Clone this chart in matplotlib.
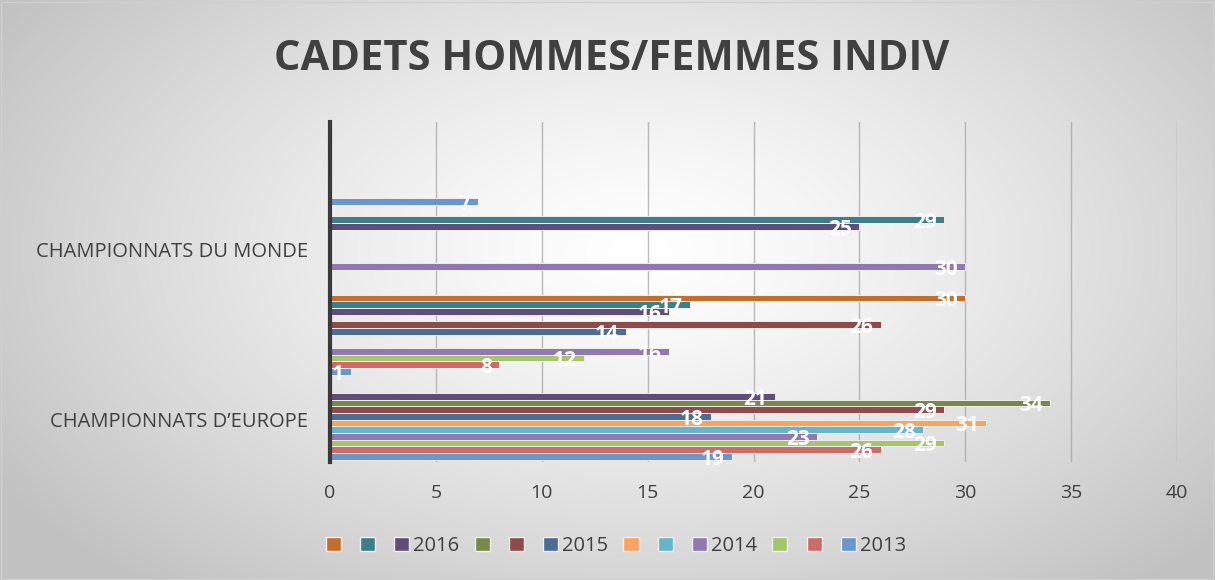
import numpy as np
import matplotlib
matplotlib.use('Agg')
import matplotlib.pyplot as plt
from matplotlib.patches import Patch

# categories bottom -> top (two labels are hidden by Excel when crowded)
categories = ['CHAMPIONNATS D\u2019EUROPE', '', 'CHAMPIONNATS DU MONDE', '']

# series in plotting order (first = bottom bar of each group); None = no bar
series_names = ['2013', '', '', '2014', '', '', '2015', '', '', '2016', '', '']
series_colors = ['#6996CB', '#CD6B69', '#A6C46E', '#9179AF', '#65B5CB', '#F9A35F',
                 '#4C6C92', '#8F4A4A', '#77894A', '#5F4E78', '#3E7E8B', '#C56E2C']
values = [
    [19, 1, None, 7],       # 2013
    [26, 8, None, None],
    [29, 12, None, None],
    [23, 16, 30, None],     # 2014
    [28, None, None, None],
    [31, None, None, None],
    [18, 14, None, None],   # 2015
    [29, 26, None, None],
    [34, None, None, None],
    [21, 16, 25, None],     # 2016
    [None, 17, 29, None],
    [None, 30, None, None],
]

plt.rcParams['font.family'] = ['Open Sans', 'DejaVu Sans']

fig = plt.figure(figsize=(12.15, 5.8), dpi=100)

# radial gradient background
bg = fig.add_axes([0, 0, 1, 1], zorder=-10)
yy, xx = np.mgrid[0:580, 0:1215]
r = np.sqrt(((xx - 640) / 900.0) ** 2 + ((yy - 250) / 520.0) ** 2)
shade = np.clip(1.0 - 0.30 * r ** 1.3, 0.76, 1.0)
bg.imshow(np.dstack([shade] * 3), aspect='auto', extent=[0, 1, 0, 1])
bg.set_axis_off()
fig.patches.append(plt.Rectangle((0.001, 0.002), 0.997, 0.995, transform=fig.transFigure,
                                 fill=False, edgecolor='#cfcfcf', linewidth=1))

ax = fig.add_axes([330 / 1215, 1 - 462 / 580, 847 / 1215, 340 / 580])
ax.patch.set_alpha(0)

n = len(values)
bar_h = 80 / 85 / n
y_base = np.arange(len(categories))

for i, (vals, col) in enumerate(zip(values, series_colors)):
    off = (i - (n - 1) / 2) * bar_h
    for j, v in enumerate(vals):
        if v is None:
            continue
        y = y_base[j] + off
        ax.barh(y, v, height=bar_h, color=col, edgecolor='#eeeeee',
                linewidth=0.7, zorder=3)
        ax.text(v - 0.35, y - bar_h * 0.45, str(v), ha='right', va='center',
                color='white', fontsize=15, fontweight='bold', zorder=4)

ax.set_xlim(0, 40)
ax.set_ylim(-0.5, len(categories) - 0.5)
ax.set_xticks(np.arange(0, 41, 5))
ax.set_yticks(y_base)
ax.set_yticklabels(categories)
ax.tick_params(axis='both', length=0, colors='#404040')
ax.tick_params(axis='x', pad=16, labelsize=14)
ax.tick_params(axis='y', pad=16, labelsize=14.5)
ax.grid(axis='x', color='#a0a0a0', linewidth=1, zorder=5, alpha=0.7)
for s in ['top', 'right', 'bottom']:
    ax.spines[s].set_visible(False)
ax.spines['left'].set_color('#3a3a3a')
ax.spines['left'].set_linewidth(3)
ax.spines['left'].set_zorder(6)

fig.text(612 / 1215, 1 - 60 / 580, 'CADETS HOMMES/FEMMES INDIV', ha='center', va='center',
         fontsize=30, fontweight='bold', color='#404040')

handles = [Patch(facecolor=c, edgecolor='#eeeeee') for c in series_colors][::-1]
labels = series_names[::-1]
fig.legend(handles, labels, loc='center', bbox_to_anchor=(616 / 1215, 1 - 546 / 580),
           ncol=12, frameon=False, fontsize=14.5, handlelength=0.75, handleheight=0.75,
           handletextpad=0.2, columnspacing=0.75, labelcolor='#404040')

fig.savefig('out.png', dpi=100)
